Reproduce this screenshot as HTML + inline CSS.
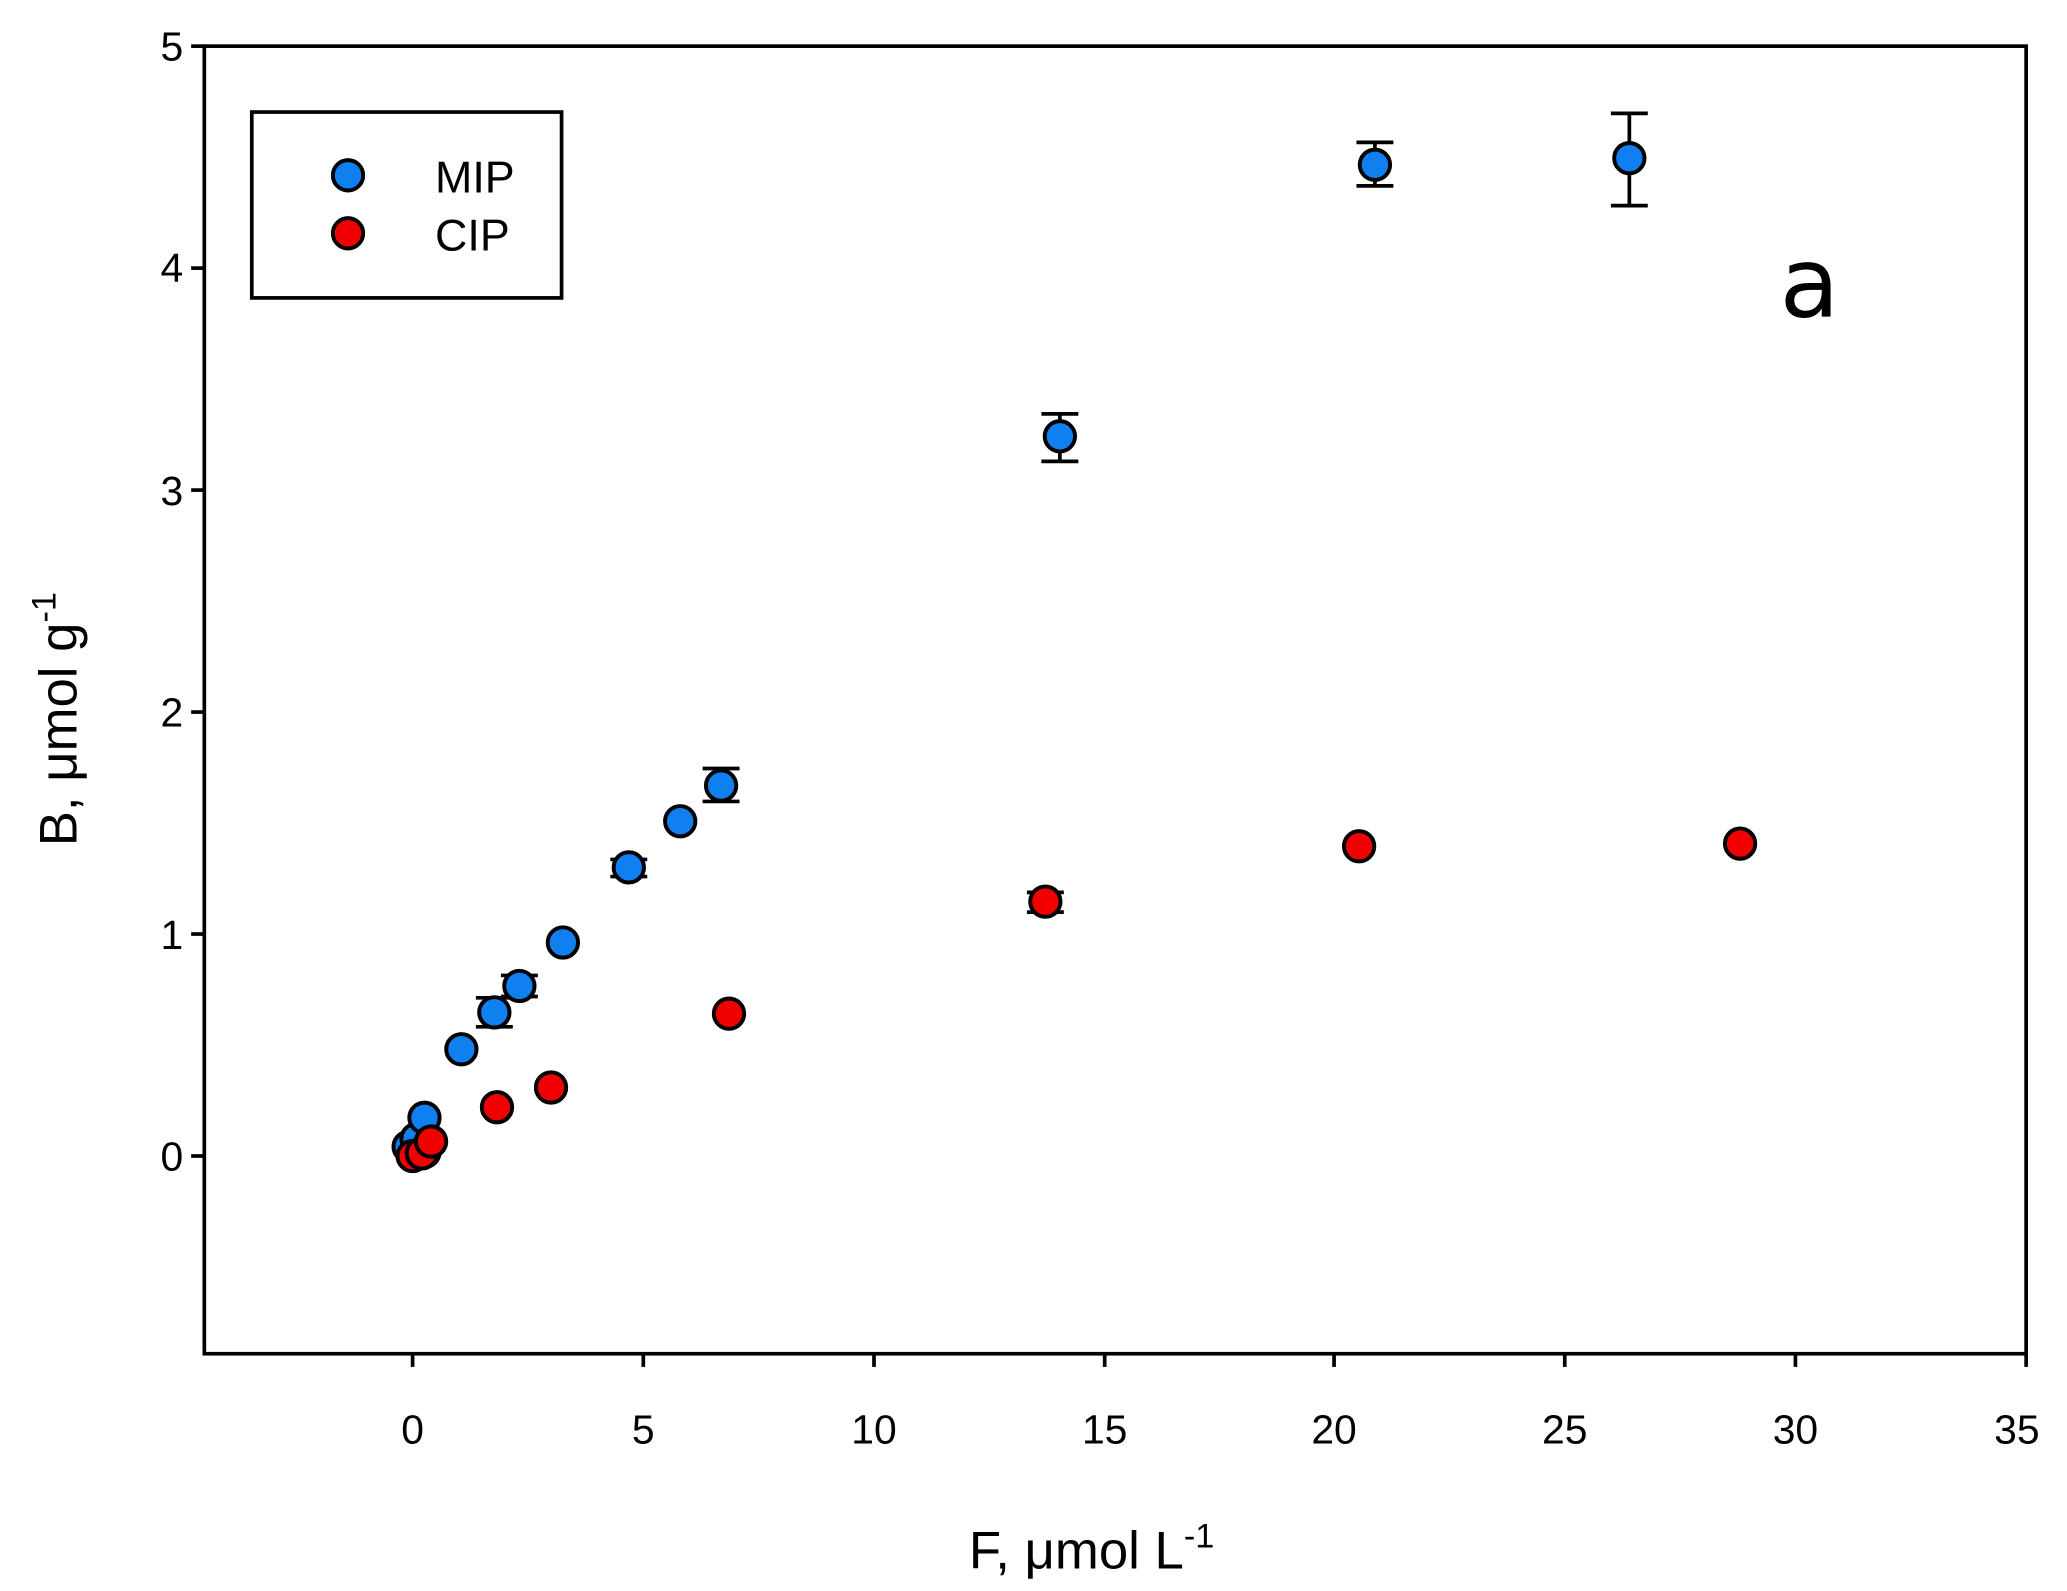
<!DOCTYPE html><html><head><style>body{margin:0;background:#fff}svg{display:block}</style></head><body>
<svg width="2067" height="1591" viewBox="0 0 1568 1207" preserveAspectRatio="none" font-family="Liberation Sans, sans-serif">
<rect width="1568" height="1207" fill="#fff"/>
<g stroke="#000" stroke-width="2.8" fill="none">
<rect x="155" y="35" width="1382" height="992"/>
<line x1="145" y1="35" x2="155" y2="35"/><line x1="145" y1="203.4" x2="155" y2="203.4"/><line x1="145" y1="371.8" x2="155" y2="371.8"/><line x1="145" y1="540.2" x2="155" y2="540.2"/><line x1="145" y1="708.6" x2="155" y2="708.6"/><line x1="145" y1="877" x2="155" y2="877"/>
<line x1="313" y1="1027" x2="313" y2="1037"/><line x1="488" y1="1027" x2="488" y2="1037"/><line x1="663" y1="1027" x2="663" y2="1037"/><line x1="838" y1="1027" x2="838" y2="1037"/><line x1="1012" y1="1027" x2="1012" y2="1037"/><line x1="1187" y1="1027" x2="1187" y2="1037"/><line x1="1362" y1="1027" x2="1362" y2="1037"/><line x1="1537" y1="1027" x2="1537" y2="1037"/>
<rect x="191" y="85" width="235" height="141"/>
</g>
<g font-size="31" text-anchor="end"><text x="139" y="46">5</text><text x="139" y="214">4</text><text x="139" y="383">3</text><text x="139" y="551">2</text><text x="139" y="720">1</text><text x="139" y="888">0</text></g>
<g font-size="31" text-anchor="middle"><text x="313" y="1095">0</text><text x="488" y="1095">5</text><text x="663" y="1095">10</text><text x="838" y="1095">15</text><text x="1012" y="1095">20</text><text x="1187" y="1095">25</text><text x="1362" y="1095">30</text><text x="1530" y="1095">35</text></g>
<text x="735" y="1190" font-size="40">F, μmol L<tspan dy="-16" font-size="26">-1</tspan></text>
<text transform="translate(58,642) rotate(-90)" font-size="40">B, μmol g<tspan dy="-16" font-size="26">-1</tspan></text>
<text x="1350" y="240" font-size="74" font-family="DejaVu Sans, sans-serif">a</text>
<text x="330" y="146" font-size="34">MIP</text><text x="330" y="190" font-size="34">CIP</text>
<g stroke="#000" stroke-width="2.8">
<line x1="1043" y1="108" x2="1043" y2="141"/><line x1="1029" y1="108" x2="1057" y2="108"/><line x1="1029" y1="141" x2="1057" y2="141"/>
<line x1="1236" y1="86" x2="1236" y2="156"/><line x1="1222" y1="86" x2="1250" y2="86"/><line x1="1222" y1="156" x2="1250" y2="156"/>
<line x1="804" y1="314" x2="804" y2="350"/><line x1="790" y1="314" x2="818" y2="314"/><line x1="790" y1="350" x2="818" y2="350"/>
<line x1="533" y1="583" x2="561" y2="583"/><line x1="533" y1="608" x2="561" y2="608"/>
<line x1="361" y1="757" x2="389" y2="757"/><line x1="361" y1="779" x2="389" y2="779"/>
<line x1="380" y1="740" x2="408" y2="740"/><line x1="380" y1="756" x2="408" y2="756"/>
<line x1="463" y1="652" x2="491" y2="652"/><line x1="463" y1="665" x2="491" y2="665"/>
<line x1="779" y1="677" x2="807" y2="677"/><line x1="779" y1="692" x2="807" y2="692"/>
</g>
<g stroke="#000" stroke-width="3" fill="#1080f0">
<circle cx="264" cy="133" r="11.5"/>
<circle cx="310" cy="870" r="11.5"/><circle cx="322" cy="874" r="11.5"/><circle cx="316" cy="864" r="11.5"/>
<circle cx="322" cy="848" r="11.5"/><circle cx="350" cy="796" r="11.5"/><circle cx="375" cy="768" r="11.5"/><circle cx="394" cy="748" r="11.5"/><circle cx="427" cy="715" r="11.5"/><circle cx="477" cy="658" r="11.5"/><circle cx="516" cy="623" r="11.5"/><circle cx="547" cy="596" r="11.5"/><circle cx="804" cy="331" r="11.5"/><circle cx="1043" cy="125" r="11.5"/><circle cx="1236" cy="120" r="11.5"/>
</g>
<g stroke="#000" stroke-width="3" fill="#f00000">
<circle cx="264" cy="177" r="11.5"/>
<circle cx="313" cy="877" r="11.5"/><circle cx="320" cy="875" r="11.5"/><circle cx="327" cy="866" r="11.5"/><circle cx="377" cy="840" r="11.5"/><circle cx="418" cy="825" r="11.5"/><circle cx="553" cy="769" r="11.5"/><circle cx="793" cy="684" r="11.5"/><circle cx="1031" cy="642" r="11.5"/><circle cx="1320" cy="640" r="11.5"/>
</g>
</svg></body></html>
